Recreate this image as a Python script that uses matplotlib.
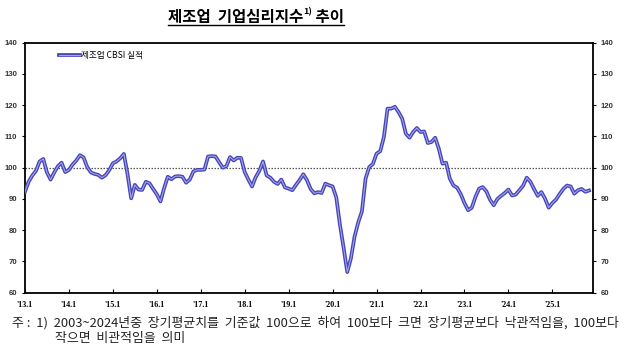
import numpy as np
import matplotlib
matplotlib.use("Agg")
import matplotlib.pyplot as plt
from matplotlib.lines import Line2D
from matplotlib.legend_handler import HandlerTuple

plt.rcParams['font.family'] = ['Noto Sans CJK KR', 'DejaVu Sans']

# 제조업 CBSI 실적, 2013.1 ~ 2025.11 (월별)
cbsi = [
    92.3, 95.5, 97.5, 99.0, 102.0, 102.8, 98.5, 96.2, 98.5, 100.5, 101.6, 98.6,   # 2013
    99.3, 101.0, 102.3, 104.0, 103.3, 100.2, 98.5, 98.0, 97.7, 96.8, 97.6, 99.2,  # 2014
    101.4, 102.0, 103.0, 104.4, 98.0, 90.2, 94.5, 93.0, 92.9, 95.5, 95.0, 93.2,   # 2015
    91.5, 89.2, 93.5, 97.1, 96.3, 97.2, 97.3, 97.1, 95.2, 96.2, 98.8, 99.3,       # 2016
    99.3, 99.4, 103.6, 103.7, 103.6, 101.8, 100.0, 100.5, 103.4, 102.3, 103.2, 103.1,  # 2017
    98.6, 96.2, 94.0, 97.0, 99.0, 102.0, 97.5, 96.8, 95.5, 94.8, 96.2, 93.7,      # 2018
    93.3, 92.8, 94.5, 96.1, 97.9, 96.0, 93.2, 91.8, 92.2, 91.9, 94.9, 94.4,       # 2019
    94.0, 90.5, 81.8, 74.4, 66.6, 71.0, 78.0, 82.5, 86.0, 96.5, 100.2, 101.2,     # 2020
    104.5, 105.3, 109.8, 118.9, 118.9, 119.5, 117.8, 115.7, 110.9, 109.6, 111.4, 112.7,  # 2021
    111.4, 111.6, 107.9, 108.2, 109.6, 106.1, 101.3, 101.6, 96.5, 94.3, 93.6, 91.5,  # 2022
    88.7, 86.4, 87.2, 90.6, 93.3, 93.8, 92.4, 89.7, 88.0, 90.0, 91.0, 91.9,       # 2023
    93.0, 91.1, 91.4, 92.8, 94.2, 96.8, 95.5, 93.2, 91.0, 92.2, 90.1, 87.2,       # 2024
    88.7, 89.8, 91.6, 93.2, 94.3, 94.0, 91.7, 92.8, 93.2, 92.3, 92.7,             # 2025
]
year_labels = ["'13.1", "'14.1", "'15.1", "'16.1", "'17.1", "'18.1", "'19.1",
               "'20.1", "'21.1", "'22.1", "'23.1", "'24.1", "'25.1"]
y_ticks = [60, 70, 80, 90, 100, 110, 120, 130, 140]
base_value = 100

months = np.arange(len(cbsi))

fig = plt.figure(figsize=(6.4, 3.45), dpi=100)
ax = fig.add_axes([0.039, 0.1516, 0.887, 0.7246])

ax.axhline(base_value, color='#555555', lw=0.9, ls=(0, (1.2, 1.2)), zorder=1)
outer, = ax.plot(months, cbsi, color='#4545b8', lw=2.7, solid_joinstyle='round', zorder=3)
inner, = ax.plot(months, cbsi, color='#a3a3ea', lw=0.8, solid_joinstyle='round', zorder=4)

ax.set_xlim(0, 155)
ax.set_ylim(60, 140)
ax.set_xticks(np.arange(0, len(year_labels) * 12, 12))
ax.set_xticklabels(year_labels, family=['Liberation Serif', 'DejaVu Serif'],
                   fontsize=5.8, fontweight='bold')
ax.tick_params(axis='x', direction='in', length=3, width=0.8, pad=6)

ax.set_yticks(y_ticks)
ax.tick_params(axis='y', direction='out', length=2.5, width=0.8, pad=3,
               left=True, right=True, labelleft=True, labelright=True)
for t in ax.yaxis.get_major_ticks():
    for lbl in (t.label1, t.label2):
        lbl.set_fontsize(5.6)
        lbl.set_fontweight('bold')
        lbl.set_color('#333333')
        lbl.set_family(['Liberation Sans', 'DejaVu Sans'])

for s in ax.spines.values():
    s.set_linewidth(1.3)
    s.set_color('black')

ax.legend([(outer, inner)], ['제조업 CBSI 실적'], handler_map={tuple: HandlerTuple(ndivide=1)},
          loc='upper left', bbox_to_anchor=(0.045, 1.0), frameon=False,
          fontsize=6.2, handlelength=2.4, handletextpad=0.1, borderaxespad=0.6)

# 제목 (윗첨자 각주 번호 + 밑줄)
t1 = fig.text(168 / 640, 1 - 22 / 345, '제조업  기업심리지수', fontsize=11.2,
              fontweight='bold', ha='left', va='baseline')
t2 = ax.annotate('1)', xy=(1, 0.55), xycoords=t1, fontsize=6.5, fontweight='bold',
                 ha='left', va='bottom', annotation_clip=False)
t3 = ax.annotate(' 추이', xy=(1, 0), xycoords=t1, xytext=(6.5, 0), textcoords='offset points',
                 fontsize=11.2, fontweight='bold', ha='left', va='bottom', annotation_clip=False)
fig.canvas.draw()
r = fig.canvas.get_renderer()
b1 = t1.get_window_extent(r)
b3 = t3.get_window_extent(r)
fig.add_artist(Line2D([b1.x0 / fig.bbox.width, b3.x1 / fig.bbox.width],
                      [1 - 24.5 / 345, 1 - 24.5 / 345], transform=fig.transFigure,
                      color='black', lw=1.0))

# 각주
fig.text(12 / 640, 1 - 327 / 345,
         '주 :  1)  2003~2024년중  장기평균치를  기준값  100으로  하여  100보다  크면  장기평균보다  낙관적임을,  100보다',
         fontsize=9.3, ha='left', va='baseline', color='#222222')
fig.text(55 / 640, 1 - 342 / 345, '작으면  비관적임을  의미',
         fontsize=9.3, ha='left', va='baseline', color='#222222')

fig.savefig('out.png', dpi=100)
